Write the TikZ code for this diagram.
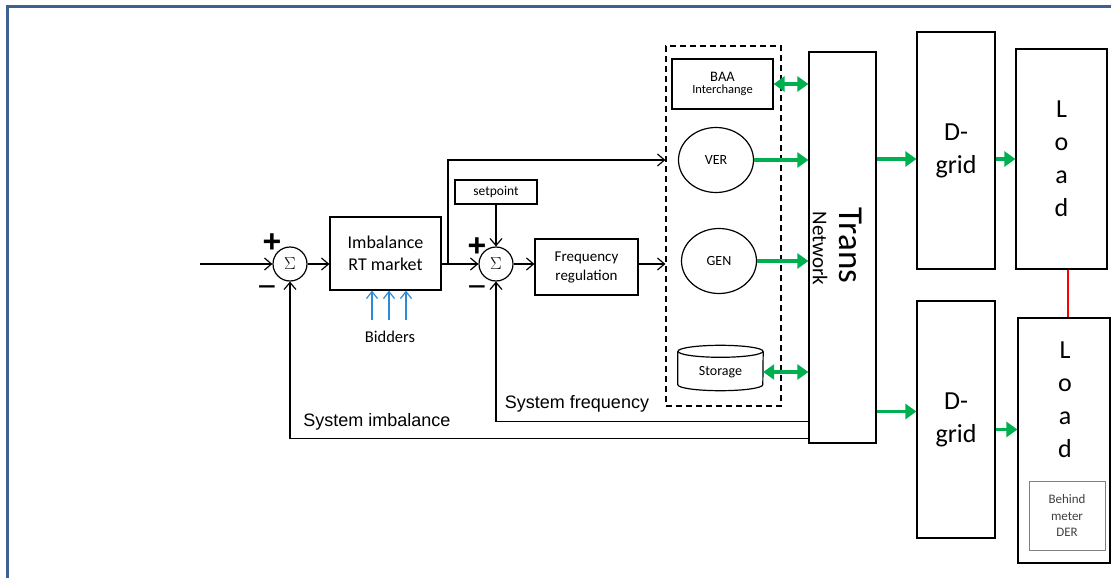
\documentclass[tikz,border=0pt]{standalone}
\usepackage{fontspec}
\setmainfont{Carlito}
\newfontfamily\arialfont{Liberation Sans}
\usetikzlibrary{arrows.meta,shapes,positioning,calc}
\newcommand\fs[2]{\fontsize{#1}{#2}\selectfont}
\definecolor{framecol}{RGB}{62,96,146}
\definecolor{flowgreen}{RGB}{0,176,80}
\definecolor{bidblue}{RGB}{46,139,214}

\begin{document}
\begin{tikzpicture}[x=1pt,y=-1pt,
    blk/.style={draw, line width=1.2pt, inner sep=0pt, align=center},
    sumnode/.style={draw, circle, line width=1.2pt, minimum size=34pt, inner sep=0pt, font=\fs{19}{20}},
    res/.style={draw, ellipse, line width=1.2pt, minimum width=75pt, minimum height=65pt, inner sep=0pt, font=\fs{14}{16}},
    pm/.style={inner sep=0pt, font=\arialfont\bfseries\fs{32}{32}},
    sig/.style={line width=1.2pt, -{Straight Barb[length=7pt,width=12pt]}},
    bidarr/.style={bidblue, line width=1.2pt, -{Straight Barb[length=7pt,width=11pt]}},
    pwr/.style={flowgreen, line width=3.5pt, -{Triangle[length=11pt,width=15pt]}},
    pwrtwo/.style={flowgreen, line width=3.5pt, {Triangle[length=11pt,width=15pt]}-{Triangle[length=11pt,width=15pt]}},
    fb/.style={font=\arialfont\fs{18}{20}}]
    \useasboundingbox (0,0) rectangle (1111,578);
    \draw[framecol, line width=3pt] (7.5,578) -- (7.5,6.5) -- (1111,6.5);

    % control loop
    \coordinate (in) at (200,264);
    \node[sumnode] (sum1) at (290,264) {$\Sigma$};
    \node[pm] (plus1) at ($(sum1)+(-18,-21)$) {+};
    \node[pm] (minus1) at ($(sum1)+(-23,28)$) {\textmd{−}};
    \node[blk, minimum width=111pt, minimum height=73pt, font=\fs{18}{22}] (imb) at (385.5,253.5) {Imbalance\\RT market};
    \node[font=\fs{16.5}{18}] (bid) at (390,337) {Bidders};
    \node[sumnode] (sum2) at (496,264) {$\Sigma$};
    \node[pm] (plus2) at ($(sum2)+(-19,-17)$) {+};
    \node[pm] (minus2) at ($(sum2)+(-19,28)$) {\textmd{−}};
    \node[blk, minimum width=82pt, minimum height=24pt, font=\fs{13.5}{16}] (setp) at (496,192) {setpoint};
    \node[blk, minimum width=103pt, minimum height=56pt, font=\fs{15}{19}] (freq) at (586.5,267) {Frequency\\regulation};
    \coordinate (br) at (448,264);

    % resources
    \node[draw, line width=1.2pt, dash pattern=on 6pt off 4pt, minimum width=115pt, minimum height=360pt] (gens) at (723.5,226) {};
    \node[blk, minimum width=101pt, minimum height=50pt] (baa) at (722.5,84) {{\fs{14.5}{15}BAA}\\{\fs{12.5}{15}Interchange}};
    \node[res] (ver) at (716,160) {VER};
    \node[res] (gen) at (719,261) {GEN};
    \node[minimum width=85pt, minimum height=45pt, inner sep=0pt] (storage) at (720.5,368) {};
    \node[font=\fs{14}{16}] (storelbl) at ($(storage)+(0,4)$) {Storage};
    \draw[line width=1.2pt] ($(storage.north)+(0,6)$) ellipse [x radius=42.5pt, y radius=6pt];
    \draw[line width=1.2pt] ($(storage.north west)+(0,6)$) -- ($(storage.south west)+(0,-6)$)
        arc [start angle=180, end angle=360, x radius=42.5pt, y radius=6pt]
        -- ($(storage.north east)+(0,6)$);

    % network, distribution and load
    \node[blk, minimum width=67pt, minimum height=391pt] (trans) at (842.5,247.5) {};
    \node[rotate=-90, inner sep=0pt, font=\fs{35}{36}] (transtxt) at (850.5,245.5) {Trans};
    \node[rotate=-90, inner sep=0pt, font=\fs{21}{24}] (nettxt) at (820,248.5) {Network};
    \node[blk, minimum width=78pt, minimum height=237pt, font=\fs{26}{33}] (dg1) at (956,150.5) {D-\\grid};
    \node[blk, minimum width=78pt, minimum height=237pt, font=\fs{26}{33}] (dg2) at (956,419.5) {D-\\grid};
    \node[blk, minimum width=91pt, minimum height=220pt, font=\fs{26}{33}] (load1) at (1061.5,159) {L\\o\\a\\d};
    \node[blk, minimum width=92pt, minimum height=245pt] (load2) at (1064,440.5) {};
    \node[align=center, inner sep=0pt, font=\fs{26}{33}] (load2txt) at (1065,400) {L\\o\\a\\d};
    \node[draw=black!50, line width=1pt, minimum width=76pt, minimum height=69pt, inner sep=0pt,
          align=center, text=black!75, font=\fs{13}{16.5}] (der) at (1067,515.5) {Behind\\meter\\DER};

    % signal connectors
    \draw[sig] (in) -- (sum1.west);
    \draw[sig] (sum1.east) -- (sum1.east -| imb.west);
    \foreach \x in {372,389,406} {
        \coordinate (b\x) at (\x,320);
        \draw[bidarr] (b\x) -- (b\x |- imb.south);
    }
    \draw[sig] (imb.east |- sum2) -- (sum2.west);
    \draw[sig] (br) |- (gens.west |- ver);
    \draw[sig] (setp.south) -- (sum2.north);
    \draw[sig] (sum2.east) -- (sum2.east -| freq.west);
    \draw[sig] (freq.east |- sum2) -- (gens.west |- sum2);

    % power flows
    \draw[pwrtwo] (baa.east) -- (baa.east -| trans.west);
    \draw[pwr] (ver.east) -- (ver.east -| trans.west);
    \draw[pwr] (gen.east) -- (gen.east -| trans.west);
    \draw[pwrtwo] ($(storage.east)+(0,4)$) coordinate (st) -- (st -| trans.west);
    \draw[pwr] (trans.east |- load1) -- (dg1.west |- load1);
    \draw[pwr] (dg1.east |- load1) -- (load1.west);
    \draw[pwr] ($(trans.east |- dg2.west)+(0,-8)$) coordinate (t2) -- (t2 -| dg2.west);
    \draw[pwr] ($(dg2.east)+(0,10)$) coordinate (d2) -- (d2 -| load2.west);
    \draw[red, line width=2.5pt] ($(load1.south)+(6.5,0)$) coordinate (r1) -- (r1 |- load2.north);

    % feedback
    \draw[sig] ($(trans.south west)+(0,-22)$) -| (sum2.south);
    \draw[sig] ($(trans.south west)+(0,-5)$) -| (sum1.south);
    \node[fb] (sysfreq) at (577,404) {System frequency};
    \node[fb] (sysimb) at (377,422) {System imbalance};
\end{tikzpicture}
\end{document}
